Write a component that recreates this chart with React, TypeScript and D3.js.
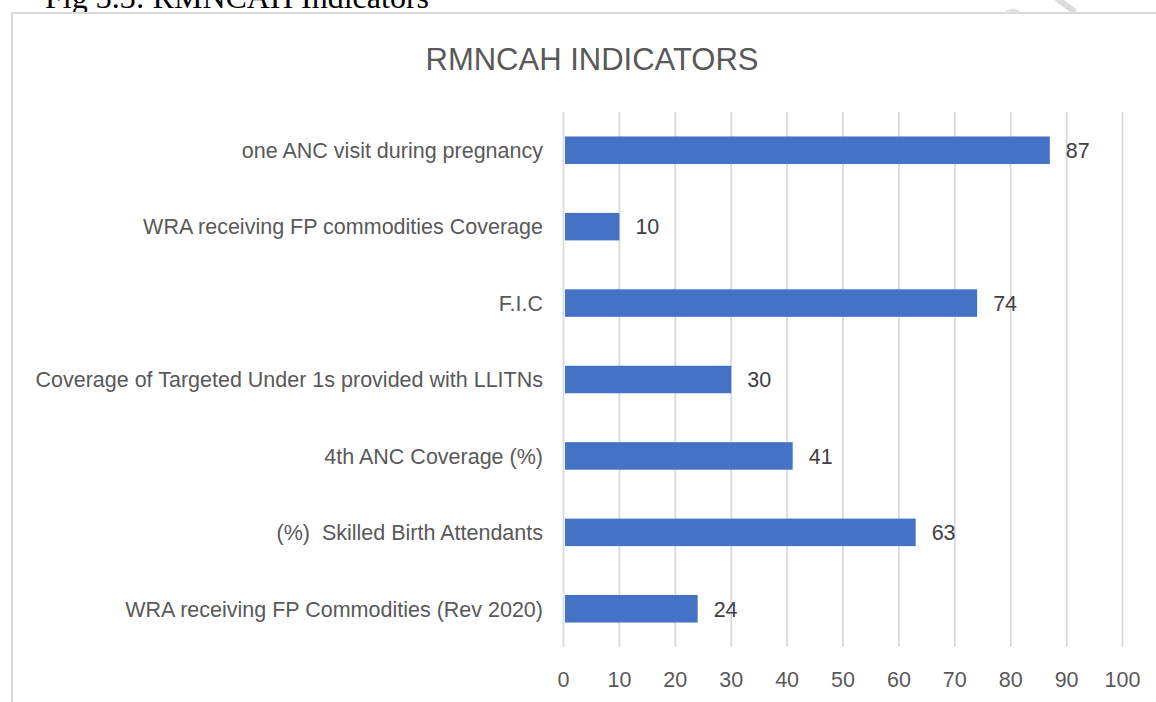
import React, { useEffect } from "react";
import * as d3 from "d3";

const categories = [
  "one ANC visit during pregnancy",
  "WRA receiving FP commodities Coverage",
  "F.I.C",
  "Coverage of Targeted Under 1s provided with LLITNs",
  "4th ANC Coverage (%)",
  "(%)  Skilled Birth Attendants",
  "WRA receiving FP Commodities (Rev 2020)",
];
const values = [87, 10, 74, 30, 41, 63, 24];
const xTicks = [0, 10, 20, 30, 40, 50, 60, 70, 80, 90, 100];

const W = 1156;
const H = 702;
const FONT = "'Liberation Sans', Arial, sans-serif";

const App = () => {
  useEffect(() => {
    document.body.style.margin = "0";
  }, []);

  const x = d3.scaleLinear().domain([0, 100]).range([563.5, 1122.5]);
  const y = d3
    .scaleBand<string>()
    .domain(categories)
    .range([112, 647])
    .paddingInner(0.64)
    .paddingOuter(0.32);

  const [top, bottom] = y.range();

  return (
    <svg width={W} height={H} style={{ display: "block", background: "#fff" }}>
      {/* caption from the page, cut off at top */}
      <text
        x={45}
        y={8}
        fontFamily="'Liberation Serif', 'Times New Roman', serif"
        fontSize={32}
        fill="#000"
      >
        Fig 3.3: RMNCAH Indicators
      </text>

      {/* chart frame */}
      <rect x={12} y={13} width={W + 10} height={H + 10} fill="#fff" stroke="#d9d9d9" strokeWidth={2} />

      {/* page artifact top right */}
      <line x1={1055} y1={-3} x2={1075} y2={12} stroke="#dcdcdc" strokeWidth={6} />
      <path d="M1006,13 Q1012,8 1019,12" fill="none" stroke="#e2e2e2" strokeWidth={3} />

      <text
        x={592}
        y={70}
        textAnchor="middle"
        fontFamily={FONT}
        fontSize={31}
        fill="#595959"
      >
        RMNCAH INDICATORS
      </text>

      {/* gridlines */}
      {xTicks.map((t) => (
        <line
          key={t}
          x1={x(t)}
          x2={x(t)}
          y1={top}
          y2={bottom}
          stroke="#d9d9d9"
          strokeWidth={1.75}
        />
      ))}

      {/* bars */}
      {categories.map((c, i) => (
        <rect
          key={c}
          x={x(0) + 1.5}
          y={y(c)}
          width={x(values[i]) - x(0) - 1.5}
          height={y.bandwidth()}
          fill="#4472c4"
        />
      ))}

      {/* value labels */}
      {categories.map((c, i) => (
        <text
          key={c}
          x={x(values[i]) + 16}
          y={(y(c) as number) + y.bandwidth() / 2}
          dy="0.36em"
          fontFamily={FONT}
          fontSize={21.5}
          fill="#404040"
        >
          {values[i]}
        </text>
      ))}

      {/* category labels */}
      {categories.map((c) => (
        <text
          key={c}
          x={543}
          y={(y(c) as number) + y.bandwidth() / 2}
          dy="0.36em"
          textAnchor="end"
          fontFamily={FONT}
          fontSize={21.5}
          fill="#595959"
          style={{ whiteSpace: "pre" }}
        >
          {c}
        </text>
      ))}

      {/* x tick labels */}
      {xTicks.map((t) => (
        <text
          key={t}
          x={x(t)}
          y={679}
          dy="0.36em"
          textAnchor="middle"
          fontFamily={FONT}
          fontSize={21.5}
          fill="#595959"
        >
          {t}
        </text>
      ))}
    </svg>
  );
};

export default App;
